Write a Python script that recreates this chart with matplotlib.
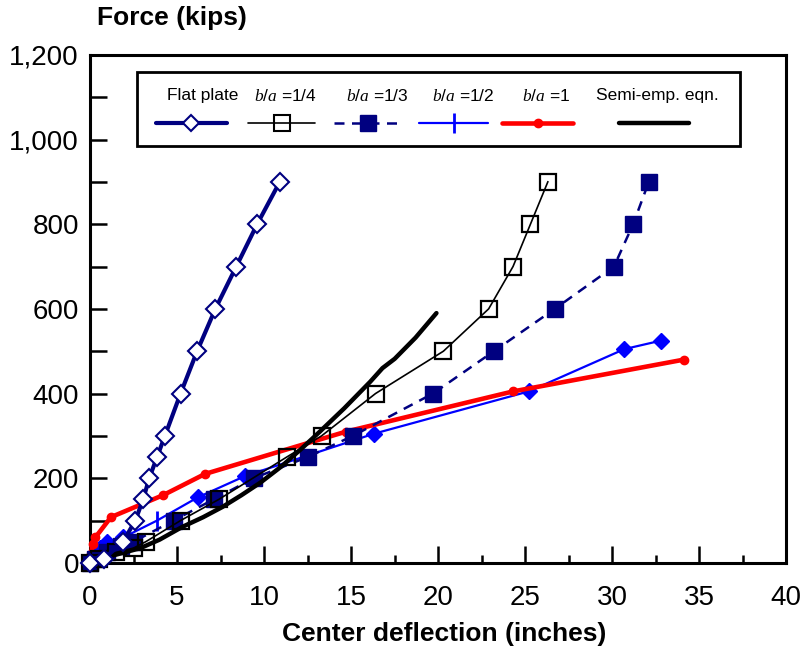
import matplotlib.pyplot as plt
from matplotlib.lines import Line2D
from matplotlib.patches import Rectangle
from matplotlib.ticker import MultipleLocator, FuncFormatter

plt.rcParams['font.family'] = ['Liberation Sans', 'DejaVu Sans']
plt.rcParams['mathtext.fontset'] = 'custom'
plt.rcParams['mathtext.it'] = 'Liberation Serif:italic'
plt.rcParams['mathtext.rm'] = 'Liberation Sans'

# datos (deflexion en pulgadas, fuerza en kips)
flat_x = [0, 0.8, 1.9, 2.6, 3.05, 3.4, 3.85, 4.3, 5.2, 6.15, 7.2, 8.4, 9.6, 10.9]
flat_y = [0, 10, 50, 100, 150, 200, 250, 300, 400, 500, 600, 700, 800, 900]

q14_x = [0, 0.5, 1.5, 2.5, 3.2, 5.2, 7.4, 11.3, 13.3, 16.4, 20.3, 22.9, 24.3, 25.3, 26.3]
q14_y = [0, 10, 25, 35, 50, 100, 150, 250, 300, 400, 500, 600, 700, 800, 900]

q13_x = [0, 0.3, 1.0, 1.8, 2.5, 4.8, 7.1, 9.4, 12.5, 15.1, 19.7, 23.2, 26.7, 30.1, 31.2, 32.1]
q13_y = [0, 10, 25, 40, 50, 100, 150, 200, 250, 300, 400, 500, 600, 700, 800, 900]

q12_x = [0, 0.2, 0.6, 1.0, 1.9, 3.85, 6.2, 8.9, 16.3, 25.2, 30.7, 32.8]
q12_y = [0, 10, 35, 50, 60, 100, 155, 205, 305, 405, 505, 525]

q1_x = [0, 0.05, 0.15, 0.3, 1.2, 4.2, 6.6, 14.7, 24.3, 34.1]
q1_y = [0, 20, 45, 60, 108, 160, 210, 310, 405, 480]

semi_x = [0, 1.0, 2.0, 2.9, 4.0, 5.3, 6.5, 7.6, 8.7, 9.8, 11.0, 12.1, 13.2, 14.6, 16.1, 16.8, 17.5, 18.7, 19.9]
semi_y = [0, 14, 25, 35, 55, 85, 108, 132, 160, 190, 228, 268, 310, 365, 428, 460, 482, 532, 590]

etiquetas = ['Flat plate', r'$b/a$ =1/4', r'$b/a$ =1/3', r'$b/a$ =1/2', r'$b/a$ =1', 'Semi-emp. eqn.']

navy = '#000080'
azul = '#0000FF'
rojo = '#FF0000'

fig = plt.figure(figsize=(8.04, 6.53), dpi=100)
ax = fig.add_axes([0.112, 0.138, 0.866, 0.778])

ax.plot(q12_x, q12_y, color=azul, lw=1.6, marker='D', ms=8.5, mfc=azul, mec=azul,
        markevery=[i for i in range(len(q12_x)) if i != 5], clip_on=False, zorder=3)
ax.plot([q12_x[5]], [q12_y[5]], ls='none', marker='|', ms=14, mew=2, color=azul, zorder=3)
ax.plot(q1_x, q1_y, color=rojo, lw=3.3, marker='o', ms=6, clip_on=False, zorder=4)
ax.plot(q13_x, q13_y, color=navy, lw=1.8, ls=(0, (4, 3)), marker='s', ms=11.5,
        mfc=navy, mec=navy, clip_on=False, zorder=5)
ax.plot(q14_x, q14_y, color='black', lw=1.2, marker='s', ms=11.5, mfc='none',
        mec='black', mew=1.6, clip_on=False, zorder=6)
ax.plot(semi_x, semi_y, color='black', lw=3.2, solid_capstyle='round', zorder=7)
ax.plot(flat_x, flat_y, color=navy, lw=3.0, marker='D', ms=9, mfc='white',
        mec=navy, mew=1.5, clip_on=False, zorder=8)

ax.set_xlim(0, 40)
ax.set_ylim(0, 1200)
ax.xaxis.set_major_locator(MultipleLocator(5))
ax.xaxis.set_minor_locator(MultipleLocator(2.5))
ax.yaxis.set_major_locator(MultipleLocator(200))
ax.yaxis.set_minor_locator(MultipleLocator(100))
ax.yaxis.set_major_formatter(FuncFormatter(lambda v, p: f'{int(v):,}'))
ax.tick_params(axis='both', which='major', direction='in', length=12, width=1.8,
               labelsize=20, top=False, right=False)
ax.tick_params(axis='y', which='minor', direction='in', length=12, width=1.8, right=False)
ax.tick_params(axis='x', which='minor', direction='in', length=6, width=1.8, top=False)
ax.tick_params(axis='x', which='major', pad=16)
ax.tick_params(axis='y', which='major', pad=8)
for s in ax.spines.values():
    s.set_linewidth(2.2)

fig.text(0.121, 0.972, 'Force (kips)', fontsize=19, fontweight='bold', va='center', ha='left')
fig.text(0.553, 0.029, 'Center deflection (inches)', fontsize=19, fontweight='bold',
         va='center', ha='center')

# leyenda dibujada a mano: texto arriba, muestra de linea abajo
def fx(px):
    return (px - 90) / 696.0

def fy(py):
    return (563 - py) / 508.0

ax.add_patch(Rectangle((fx(137), fy(146)), fx(740) - fx(137), fy(72) - fy(146),
                       transform=ax.transAxes, fill=True, fc='white', ec='black',
                       lw=2.0, zorder=20))
cols = [(203, 156, 227, 191), (285, 248, 315, 282), (377, 334, 403, 368),
        (463, 419, 488, 454), (546, 502, 573, 538), (657, 619, 689, None)]
estilos = [dict(color=navy, lw=3.0, marker='D', ms=8, mfc='white', mec=navy, mew=1.5),
           dict(color='black', lw=1.2, marker='s', ms=11, mfc='none', mec='black', mew=1.5),
           dict(color=navy, lw=1.8, ls=(0, (4, 3)), marker='s', ms=11, mfc=navy, mec=navy),
           dict(color=azul, lw=1.6, marker='|', ms=14, mew=2),
           dict(color=rojo, lw=3.3, marker='o', ms=6),
           dict(color='black', lw=3.2, solid_capstyle='round')]
for (tx, x0, x1, mx), lab, st in zip(cols, etiquetas, estilos):
    ax.text(fx(tx), fy(96), lab, transform=ax.transAxes, ha='center', va='center',
            fontsize=12.5, zorder=21)
    ln = Line2D([fx(x0), fx(x1)], [fy(123), fy(123)], transform=ax.transAxes,
                zorder=21, **{k: v for k, v in st.items() if k not in ('marker', 'ms', 'mfc', 'mec', 'mew')})
    ln.set_solid_capstyle('round')
    ax.add_line(ln)
    if mx is not None:
        mk = {k: v for k, v in st.items() if k in ('marker', 'ms', 'mfc', 'mec', 'mew', 'color')}
        ax.add_line(Line2D([fx(mx)], [fy(123)], transform=ax.transAxes, ls='none',
                           zorder=22, **mk))

fig.savefig('out.png', dpi=100)
